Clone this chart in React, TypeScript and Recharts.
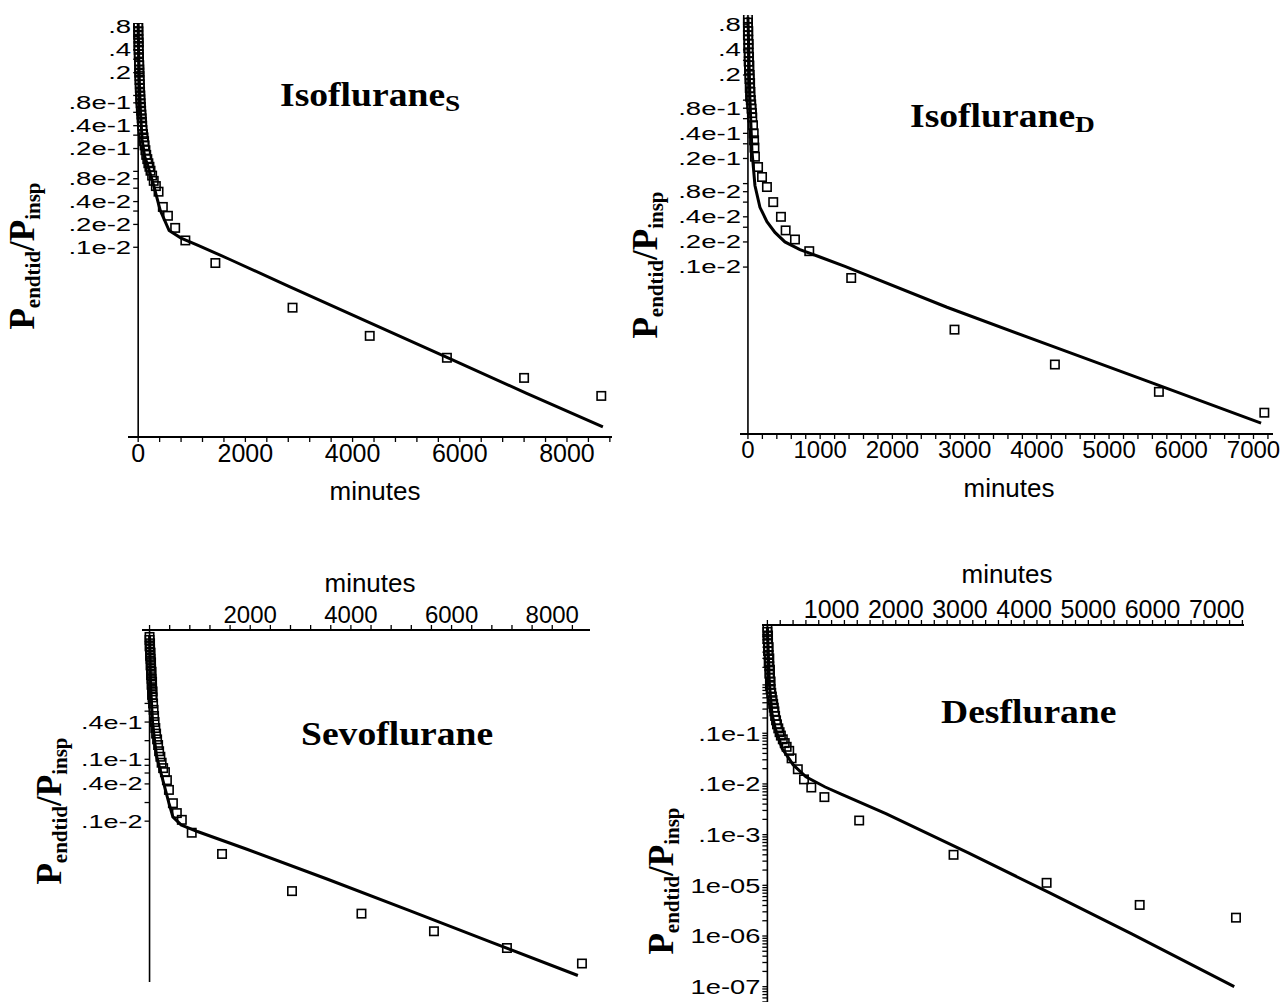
import {
  ComposedChart,
  Line,
  ReferenceLine,
  Scatter,
  XAxis,
  YAxis,
} from "recharts";

// page size, the charts sit on top of each other and each one only fills its own box
const CHART_W = 1282;
const CHART_H = 1010;

const sansFont = '"Liberation Sans", Arial, sans-serif';
const serifFont = '"Liberation Serif", "Times New Roman", serif';

// ---- Isoflurane S (top left) ----
const isoSTimes = [
  0, 0, 5, 0, 5, 10, 5, 10, 10, 15, 15, 20, 20, 20, 25, 25, 30, 30, 35, 40,
  40, 45, 50, 55, 60, 65, 70, 75, 80, 90, 100, 110, 120, 135, 150, 170, 190,
  210, 230, 260, 290, 330, 380, 460, 555, 690, 880, 1440, 2880, 4320, 5760,
  7200, 8640,
];
const isoSRatios = [
  0.89, 0.79, 0.7, 0.63, 0.56, 0.5, 0.45, 0.4, 0.35, 0.32, 0.28, 0.25, 0.22,
  0.2, 0.18, 0.16, 0.14, 0.126, 0.112, 0.1, 0.089, 0.079, 0.071, 0.063, 0.056,
  0.05, 0.045, 0.04, 0.035, 0.031, 0.028, 0.025, 0.022, 0.019, 0.0165, 0.0145,
  0.0128, 0.0115, 0.0102, 0.0088, 0.0075, 0.0064, 0.0054, 0.0034, 0.0026,
  0.0018, 0.00123, 6.2e-4, 1.6e-4, 6.8e-5, 3.5e-5, 1.9e-5, 1.1e-5,
];
const isoSFitTimes = [
  0, 10, 25, 45, 74, 120, 186, 298, 409, 577, 800, 1107, 1712, 2791, 4316,
  5740, 7237, 8670,
];
const isoSFitRatios = [
  0.9, 0.32, 0.126, 0.056, 0.026, 0.0158, 0.0115, 0.0062, 0.0031, 0.00166,
  0.00132, 0.00107, 6.9e-4, 3.1e-4, 1.02e-4, 3.6e-5, 1.2e-5, 4.3e-6,
];

// ---- Isoflurane D (top right) ----
const isoDTimes = [
  0, 0, 0, 5, 0, 5, 10, 5, 10, 15, 10, 20, 15, 25, 20, 30, 25, 35, 30, 40, 45,
  50, 55, 60, 70, 80, 85, 90, 97, 140, 195, 263, 350, 457, 522, 651, 849,
  1430, 2860, 4250, 5690, 7150,
];
const isoDRatios = [
  0.95, 0.85, 0.75, 0.67, 0.6, 0.53, 0.47, 0.42, 0.37, 0.33, 0.29, 0.26, 0.23,
  0.2, 0.18, 0.16, 0.14, 0.125, 0.11, 0.1, 0.089, 0.079, 0.07, 0.062, 0.05,
  0.04, 0.033, 0.027, 0.021, 0.0158, 0.012, 0.0091, 0.006, 0.004, 0.00275,
  0.00214, 0.00155, 7.4e-4, 1.78e-4, 6.8e-5, 3.2e-5, 1.8e-5,
];
const isoDFitTimes = [
  0, 28, 55, 97, 166, 263, 374, 512, 720, 997, 1343, 2756, 4183, 5596, 7105,
];
const isoDFitRatios = [
  1.0, 0.1, 0.025, 0.0095, 0.0052, 0.0035, 0.0026, 0.002, 0.00162, 0.00132,
  0.00102, 3.3e-4, 1.15e-4, 4.1e-5, 1.35e-5,
];

// ---- Sevoflurane (bottom left) ----
const sevoTimes = [
  0, 0, 10, 0, 10, 20, 10, 20, 30, 20, 30, 40, 30, 40, 50, 40, 50, 60, 50, 60,
  70, 80, 90, 100, 115, 130, 150, 170, 190, 215, 240, 270, 306, 345, 385, 464,
  542, 641, 838, 1440, 2830, 4210, 5650, 7100, 8590,
];
const sevoRatios = [
  0.95, 0.85, 0.75, 0.67, 0.6, 0.53, 0.47, 0.42, 0.37, 0.33, 0.29, 0.26, 0.23,
  0.2, 0.18, 0.16, 0.14, 0.125, 0.11, 0.1, 0.08, 0.063, 0.05, 0.04, 0.032,
  0.026, 0.021, 0.017, 0.0135, 0.011, 0.0088, 0.0072, 0.0062, 0.0046, 0.0032,
  0.00195, 0.00135, 0.00105, 6.5e-4, 2.95e-4, 7.4e-5, 3.2e-5, 1.66e-5, 8.9e-6,
  5.0e-6,
];
const sevoFitTimes = [
  0, 20, 60, 100, 142, 264, 385, 464, 627, 951, 1921, 3538, 5154, 6771, 8509,
];
const sevoFitRatios = [
  1.0, 0.158, 0.04, 0.02, 0.011, 0.0046, 0.00195, 0.00117, 8.7e-4, 6.8e-4,
  3.55e-4, 1.15e-4, 3.6e-5, 1.12e-5, 3.2e-6,
];

// ---- Desflurane (bottom right) ----
const desTimes = [
  0, 0, 10, 0, 10, 20, 10, 20, 30, 20, 30, 40, 30, 40, 50, 40, 50, 60, 70, 80,
  90, 100, 110, 120, 135, 150, 170, 190, 210, 240, 270, 300, 340, 377, 474,
  570, 684, 888, 1430, 2900, 4350, 5800, 7300,
];
const desRatios = [
  1.2, 1.0, 0.85, 0.72, 0.6, 0.5, 0.42, 0.35, 0.3, 0.25, 0.21, 0.18, 0.15,
  0.125, 0.105, 0.09, 0.075, 0.063, 0.053, 0.045, 0.038, 0.032, 0.027, 0.022,
  0.018, 0.015, 0.0125, 0.0105, 0.009, 0.0076, 0.0064, 0.0054, 0.0045, 0.0032,
  0.00195, 0.00123, 8.5e-4, 5.5e-4, 1.9e-4, 4.0e-5, 1.12e-5, 4.1e-6, 2.3e-6,
];
const desFitTimes = [
  0, 30, 70, 121, 230, 400, 600, 900, 1150, 1846, 3123, 4399, 5676, 7273,
];
const desFitRatios = [
  1.26, 0.1, 0.025, 0.0126, 0.005, 0.0024, 0.00138, 8.7e-4, 6.3e-4, 2.6e-4,
  4.4e-5, 7.1e-6, 1.1e-6, 1.0e-7,
];

// ---- axis ticks ----
const isoYTicks = [0.8, 0.4, 0.2, 0.08, 0.04, 0.02, 0.008, 0.004, 0.002, 0.001];
const isoYLabels = [".8", ".4", ".2", ".8e-1", ".4e-1", ".2e-1", ".8e-2", ".4e-2", ".2e-2", ".1e-2"];
const isoYMinor = [0.6, 0.3, 0.1, 0.06, 0.03, 0.01, 0.006, 0.003];

const sevoYTicks = [0.04, 0.01, 0.004, 0.001];
const sevoYLabels = [".4e-1", ".1e-1", ".4e-2", ".1e-2"];
const sevoYMinor = [0.08, 0.06, 0.02, 0.008, 0.006, 0.002];

const desYTicks = [0.01, 0.001, 1e-4, 1e-5, 1e-6, 1e-7];
const desYLabels = [".1e-1", ".1e-2", ".1e-3", "1e-05", "1e-06", "1e-07"];

const isoSXLabels = [0, 2000, 4000, 6000, 8000];
const isoDXLabels = [0, 1000, 2000, 3000, 4000, 5000, 6000, 7000];
const sevoXLabels = [2000, 4000, 6000, 8000];
const desXLabels = [1000, 2000, 3000, 4000, 5000, 6000, 7000];

function stepTicks(step: number, max: number) {
  const out: number[] = [];
  for (let v = 0; v <= max; v += step) out.push(v);
  return out;
}

function decadeTicks(lo: number, hi: number) {
  const out: number[] = [];
  for (let e = -8; e <= 0; e++) {
    for (let k = 2; k <= 9; k++) {
      const v = k * Math.pow(10, e);
      if (v > lo && v < hi) out.push(v);
    }
  }
  return out;
}

function Square(props: any) {
  const { cx, cy } = props;
  if (cx == null || cy == null) return <g />;
  return (
    <rect
      x={cx - 4.2}
      y={cy - 4.2}
      width={8.4}
      height={8.4}
      fill="none"
      stroke="#000"
      strokeWidth={1.6}
    />
  );
}

interface Box {
  left: number;
  right: number;
  top: number;
  bottom: number;
}

interface PanelProps {
  box: Box;
  xDomain: [number, number];
  yDomain: [number, number];
  xTicks: number[];
  xLabels: number[];
  xFont: number;
  yTicks: number[];
  yLabels: string[];
  yMinor: number[];
  yFont: number;
  yStretch: number;
  times: number[];
  ratios: number[];
  fitTimes: number[];
  fitRatios: number[];
  axisTop?: boolean;
}

function DecayPanel({
  box,
  xDomain,
  yDomain,
  xTicks,
  xLabels,
  xFont,
  yTicks,
  yLabels,
  yMinor,
  yFont,
  yStretch,
  times,
  ratios,
  fitTimes,
  fitRatios,
  axisTop,
}: PanelProps) {
  const points = times.map((t, i) => ({ t, r: ratios[i] }));
  const fit = fitTimes.map((t, i) => ({ t, r: fitRatios[i] }));

  const axisH = 30;
  const axisW = 10;

  // the y axis line is drawn at minute 0, a little right of the plot edge
  const zeroX =
    box.left +
    ((0 - xDomain[0]) / (xDomain[1] - xDomain[0])) * (box.right - box.left);

  const renderYTick = (p: any) => {
    const v = p.payload.value;
    const i = yTicks.indexOf(v);
    const label = i >= 0 ? yLabels[i] : "";
    return (
      <g>
        <line
          x1={zeroX - 5}
          x2={zeroX}
          y1={p.y}
          y2={p.y}
          stroke="#000"
          strokeWidth={1.3}
        />
        {label && (
          <text
            transform={`translate(${zeroX - 7},${p.y}) scale(${yStretch},1)`}
            textAnchor="end"
            dominantBaseline="central"
            fontSize={yFont}
            fontFamily={sansFont}
            fill="#000"
          >
            {label}
          </text>
        )}
      </g>
    );
  };

  return (
    <div style={{ position: "absolute", left: 0, top: 0 }}>
      <ComposedChart
        width={CHART_W}
        height={CHART_H}
        margin={{
          left: box.left - axisW,
          right: CHART_W - box.right,
          top: axisTop ? box.top - axisH : box.top,
          bottom: axisTop
            ? CHART_H - box.bottom
            : CHART_H - box.bottom - axisH,
        }}
      >
        <XAxis
          type="number"
          dataKey="t"
          domain={xDomain}
          allowDataOverflow
          ticks={xTicks}
          interval={0}
          orientation={axisTop ? "top" : "bottom"}
          height={axisH}
          tickSize={5}
          axisLine={{ stroke: "#000", strokeWidth: 1.8 }}
          tickLine={{ stroke: "#000", strokeWidth: 1.3 }}
          tick={{ fill: "#000", fontSize: xFont, fontFamily: sansFont }}
          tickFormatter={(v) => (xLabels.includes(v) ? String(v) : "")}
        />

        <YAxis
          type="number"
          dataKey="r"
          scale="log"
          domain={yDomain}
          allowDataOverflow
          ticks={[...yTicks, ...yMinor]}
          interval={0}
          width={axisW}
          axisLine={false}
          tickLine={false}
          tick={renderYTick}
        />

        <ReferenceLine x={0} stroke="#000" strokeWidth={1.6} />

        <Line
          data={fit}
          dataKey="r"
          type="linear"
          stroke="#000"
          strokeWidth={3}
          dot={false}
          isAnimationActive={false}
        />

        <Scatter
          data={points}
          dataKey="r"
          shape={Square}
          isAnimationActive={false}
        />
      </ComposedChart>
    </div>
  );
}

function Title({
  x,
  y,
  main,
  sub,
}: {
  x: number;
  y: number;
  main: string;
  sub?: string;
}) {
  return (
    <text
      transform={`translate(${x},${y}) scale(1.14,1)`}
      fontFamily={serifFont}
      fontWeight="bold"
      fontSize={33}
      fill="#000"
    >
      {main}
      {sub && (
        <tspan fontSize={24} dy={5}>
          {sub}
        </tspan>
      )}
    </text>
  );
}

function RatioLabel({ x, y }: { x: number; y: number }) {
  return (
    <text
      transform={`translate(${x},${y}) rotate(-90)`}
      textAnchor="middle"
      fontFamily={serifFont}
      fontWeight="bold"
      fontSize={35}
      fill="#000"
    >
      P
      <tspan fontSize={21} dy={6}>
        endtid
      </tspan>
      <tspan dy={-6}>/P</tspan>
      <tspan fontSize={21} dy={6}>
        insp
      </tspan>
    </text>
  );
}

function Minutes({ x, y }: { x: number; y: number }) {
  return (
    <text
      x={x}
      y={y}
      textAnchor="middle"
      fontFamily={sansFont}
      fontSize={26}
      fill="#000"
    >
      minutes
    </text>
  );
}

export default function App() {
  return (
    <div
      style={{
        position: "absolute",
        left: 0,
        top: 0,
        width: 1282,
        height: 1002,
        overflow: "hidden",
        background: "#fff",
      }}
    >
      <DecayPanel
        box={{ left: 128, right: 612, top: 23, bottom: 437 }}
        xDomain={[-190, 8840]}
        yDomain={[Math.pow(10, -5.5), Math.pow(10, -0.045)]}
        xTicks={stepTicks(400, 8800)}
        xLabels={isoSXLabels}
        xFont={25}
        yTicks={isoYTicks}
        yLabels={isoYLabels}
        yMinor={isoYMinor}
        yFont={19}
        yStretch={1.45}
        times={isoSTimes}
        ratios={isoSRatios}
        fitTimes={isoSFitTimes}
        fitRatios={isoSFitRatios}
      />

      <DecayPanel
        box={{ left: 740, right: 1273, top: 15, bottom: 434 }}
        xDomain={[-110, 7270]}
        yDomain={[Math.pow(10, -5.0), Math.pow(10, 0.02)]}
        xTicks={stepTicks(200, 7200)}
        xLabels={isoDXLabels}
        xFont={24}
        yTicks={isoYTicks}
        yLabels={isoYLabels}
        yMinor={isoYMinor}
        yFont={19}
        yStretch={1.45}
        times={isoDTimes}
        ratios={isoDRatios}
        fitTimes={isoDFitTimes}
        fitRatios={isoDFitRatios}
      />

      <DecayPanel
        box={{ left: 142, right: 590, top: 630, bottom: 982 }}
        xDomain={[-150, 8750]}
        yDomain={[Math.pow(10, -5.6), Math.pow(10, 0.09)]}
        xTicks={stepTicks(400, 8750)}
        xLabels={sevoXLabels}
        xFont={24}
        yTicks={sevoYTicks}
        yLabels={sevoYLabels}
        yMinor={sevoYMinor}
        yFont={19}
        yStretch={1.42}
        times={sevoTimes}
        ratios={sevoRatios}
        fitTimes={sevoFitTimes}
        fitRatios={sevoFitRatios}
        axisTop
      />

      <DecayPanel
        box={{ left: 762, right: 1244, top: 625, bottom: 1010 }}
        xDomain={[-84, 7425]}
        yDomain={[Math.pow(10, -7.46), Math.pow(10, 0.136)]}
        xTicks={stepTicks(200, 7400)}
        xLabels={desXLabels}
        xFont={25}
        yTicks={desYTicks}
        yLabels={desYLabels}
        yMinor={decadeTicks(Math.pow(10, -7.46), Math.pow(10, 0.136))}
        yFont={21}
        yStretch={1.3}
        times={desTimes}
        ratios={desRatios}
        fitTimes={desFitTimes}
        fitRatios={desFitRatios}
        axisTop
      />

      <svg
        width={1282}
        height={1002}
        style={{ position: "absolute", left: 0, top: 0, pointerEvents: "none" }}
      >
        <Title x={280} y={106} main="Isoflurane" sub="S" />
        <Title x={910} y={127} main="Isoflurane" sub="D" />
        <Title x={301} y={745} main="Sevoflurane" />
        <Title x={941} y={723} main="Desflurane" />

        <RatioLabel x={34} y={256} />
        <RatioLabel x={657} y={265} />
        <RatioLabel x={61} y={811} />
        <RatioLabel x={673} y={881} />

        <Minutes x={375} y={500} />
        <Minutes x={1009} y={497} />
        <Minutes x={370} y={592} />
        <Minutes x={1007} y={583} />
      </svg>
    </div>
  );
}
